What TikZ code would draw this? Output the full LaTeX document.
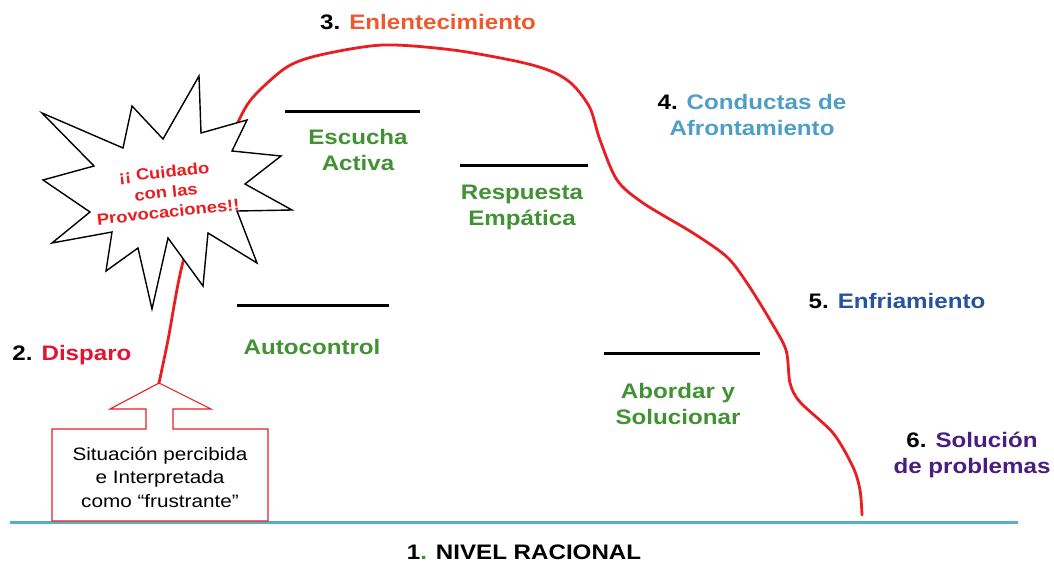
\documentclass[tikz,border=0pt]{standalone}
\usepackage{fontspec}
\setmainfont{Liberation Sans}[FakeStretch=1.15]
\definecolor{curvered}{RGB}{232,30,35}
\definecolor{dispred}{RGB}{225,20,50}
\definecolor{slowor}{RGB}{238,88,45}
\definecolor{copeblue}{RGB}{78,158,198}
\definecolor{coolblue}{RGB}{38,82,160}
\definecolor{solpurple}{RGB}{72,30,128}
\definecolor{stepgreen}{RGB}{66,146,52}
\definecolor{baseteal}{RGB}{84,178,198}
\begin{document}
\begin{tikzpicture}[x=1pt,y=-1pt,
  lbl/.style={font=\fontsize{21}{26}\selectfont\bfseries, align=center, inner sep=0pt},
  greenlbl/.style={lbl, text=stepgreen},
  levelline/.style={line width=3pt, black},
  redcurve/.style={line width=2.8pt, curvered, line cap=round, line join=round},
  startxt/.style={font=\fontsize{16}{20}\selectfont\bfseries, text=curvered, align=center, inner sep=0pt, rotate=6},
  boxtxt/.style={font=\fontsize{18}{23.5}\selectfont, align=center, inner sep=0pt},
  callout/.style={draw=curvered, line width=1.1pt, fill=white},
  starshape/.style={draw=black, line width=1.4pt, fill=white, line join=miter}
]
\useasboundingbox (0,0) rectangle (1054,562);

% baseline
\coordinate (baseL) at (10,522);
\coordinate (baseR) at (1018,522);
\draw[baseteal, line width=3pt] (baseL) -- (baseR);

% callout arrow box
\coordinate (tip) at (159,383);
\draw[callout] (52,521) -- (52,429) -- (146,429) -- (146,409) -- (110,409) -- (tip)
  -- (211,409) -- (173,409) -- (173,429) -- (268,429) -- (268,521) -- cycle;
\node[boxtxt] (sit) at (160,477) {Situación percibida\\ e Interpretada\\como “frustrante”};

% red curve
\coordinate (curveEnd) at (862,515);
\draw[redcurve] plot[smooth, tension=0.5] coordinates {
  (tip) (168,340) (183,262) (210,185) (240,118) (255,95) (287,67) (320,55) (383,45)
  (453,50) (520,62) (553,72) (573,85) (590,108) (600,140) (617,180) (643,203)
  (693,233) (727,257) (747,283) (770,320) (786,350) (790,383) (800,402)
  (833,433) (853,467) (860,490) (curveEnd)};

% star
\draw[starshape] (42,113) -- (123,148) -- (132,106) -- (163,139) -- (199,76) -- (201,133)
  -- (247,120) -- (232,151) -- (281,156) -- (245,184) -- (292,210) -- (237,211)
  -- (257,263) -- (208,233) -- (203,286) -- (168,238) -- (152,309) -- (138,248)
  -- (106,271) -- (112,232) -- (52,243) -- (90,212) -- (43,180) -- (94,166) -- cycle;
\node[startxt] (warn) at (166,192) {¡¡ Cuidado\\con las\\Provocaciones!!};

% level lines
\draw[levelline] (285,111) -- (420,111);
\draw[levelline] (460,165) -- (588,165);
\draw[levelline] (237,305) -- (389,305);
\draw[levelline] (604,353) -- (760,353);

% green labels
\node[greenlbl] (escucha) at (358,150) {Escucha\\Activa};
\node[greenlbl] (resp) at (522,207) {Respuesta\\Empática};
\node[greenlbl] (auto) at (312,347) {Autocontrol};
\node[greenlbl] (abordar) at (678,404) {Abordar y\\Solucionar};

% stage labels
\node[lbl] (s1) at (524,552) {1\textcolor{stepgreen}{.} NIVEL RACIONAL};
\node[lbl] (s2) at (72,355) {2. \textcolor{dispred}{Disparo}};
\node[lbl] (s3) at (428,22) {3. \textcolor{slowor}{Enlentecimiento}};
\node[lbl] (s4) at (752,115) {4. \textcolor{copeblue}{Conductas de}\\\textcolor{copeblue}{Afrontamiento}};
\node[lbl] (s5) at (897,301) {5. \textcolor{coolblue}{Enfriamiento}};
\node[lbl] (s6) at (972,455) {6. \textcolor{solpurple}{Solución}\\\textcolor{solpurple}{de problemas}};
\end{tikzpicture}
\end{document}
